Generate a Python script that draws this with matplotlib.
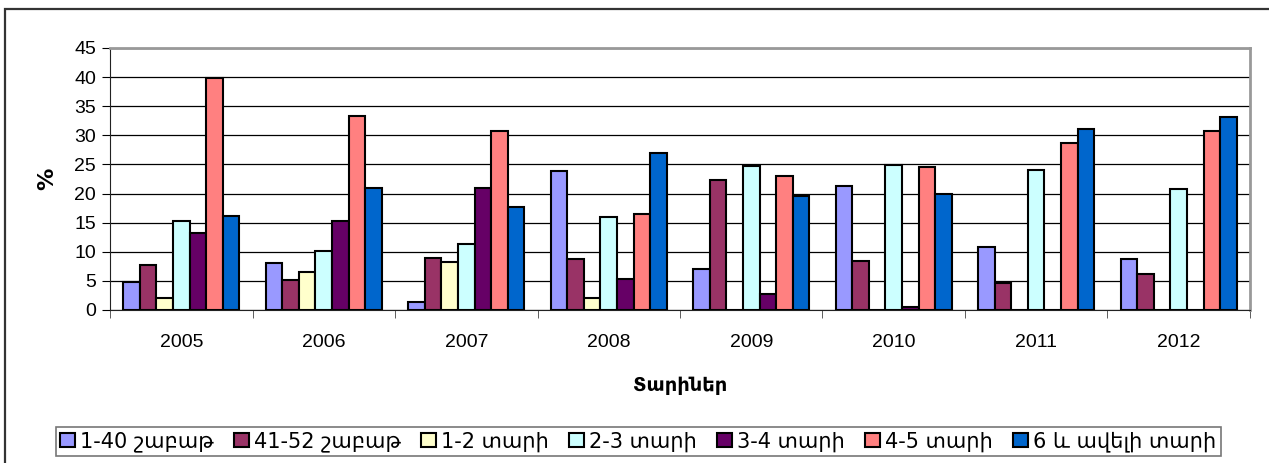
import numpy as np
import matplotlib.pyplot as plt
from matplotlib.patches import Rectangle

years = ['2005', '2006', '2007', '2008', '2009', '2010', '2011', '2012']
series = ['1-40 շաբաթ', '41-52 շաբաթ', '1-2 տարի', '2-3 տարի',
          '3-4 տարի', '4-5 տարի', '6 և ավելի տարի']

w1_40 = [4.8, 8.0, 1.4, 23.9, 7.0, 21.3, 10.8, 8.7]
w41_52 = [7.7, 5.2, 9.0, 8.7, 22.4, 8.4, 4.7, 6.1]
y1_2 = [2.1, 6.6, 8.2, 2.0, 0, 0, 0, 0]
y2_3 = [15.3, 10.2, 11.4, 16.0, 24.8, 24.9, 24.1, 20.7]
y3_4 = [13.3, 15.3, 20.9, 5.3, 2.7, 0.5, 0, 0]
y4_5 = [39.9, 33.3, 30.8, 16.5, 23.0, 24.5, 28.7, 30.8]
y6 = [16.2, 20.9, 17.7, 27.0, 19.6, 20.0, 31.0, 33.1]

data = [w1_40, w41_52, y1_2, y2_3, y3_4, y4_5, y6]
colors = ['#9999FF', '#993366', '#FFFFCC', '#CCFFFF', '#660066', '#FF8080', '#0066CC']

plt.rcParams['font.family'] = ['DejaVu Sans']

fig = plt.figure(figsize=(12.69, 4.63), dpi=100)
ax = fig.add_axes([0.0867, 0.3305, 0.8983, 0.5659])

x = np.arange(len(years))
w = 0.116
for i in range(len(data)):
    ax.bar(x + (i - 3) * w, data[i], w, color=colors[i], edgecolor='black',
           linewidth=1.5, label=series[i], zorder=3)

ax.set_ylim(0, 45)
ax.set_xlim(-0.5, 7.5)
ax.set_yticks(np.arange(0, 46, 5))
ax.yaxis.grid(True, color='black', linewidth=0.9, zorder=0)
ax.set_xticks(x)
ax.set_xticklabels(years, fontsize=14, family='Liberation Sans')
for t in ax.get_yticklabels():
    t.set_family('Liberation Sans')
ax.set_xticks(np.arange(-0.5, 8, 1), minor=True)
ax.tick_params(axis='x', which='major', length=0, pad=17)
ax.tick_params(axis='x', which='minor', length=6, color='#444444', direction='out')
ax.tick_params(axis='y', labelsize=14, length=6, direction='out', pad=4)

for s in ['top', 'right']:
    ax.spines[s].set_color('#999999')
    ax.spines[s].set_linewidth(2)
ax.spines['left'].set_color('#222222')
ax.spines['bottom'].set_color('#222222')

ax.set_ylabel('%', fontsize=16, fontweight='bold', labelpad=12)
ax.set_xlabel('Տարիներ', fontsize=14, fontweight='bold', labelpad=18)

leg = fig.legend(loc='center', bbox_to_anchor=(0.5028, 0.0464), ncol=7, fontsize=15,
                 frameon=True, fancybox=False, edgecolor='#555555',
                 handlelength=0.72, handleheight=0.72, handletextpad=0.25,
                 columnspacing=0.96, borderpad=0.2, borderaxespad=0)
leg.get_frame().set_linewidth(1.2)

fig.patches.append(Rectangle((0.004, -0.1), 1.1, 1.0806, transform=fig.transFigure,
                             fill=False, edgecolor='#333333', linewidth=1.6))

fig.savefig('out.png', dpi=100)
